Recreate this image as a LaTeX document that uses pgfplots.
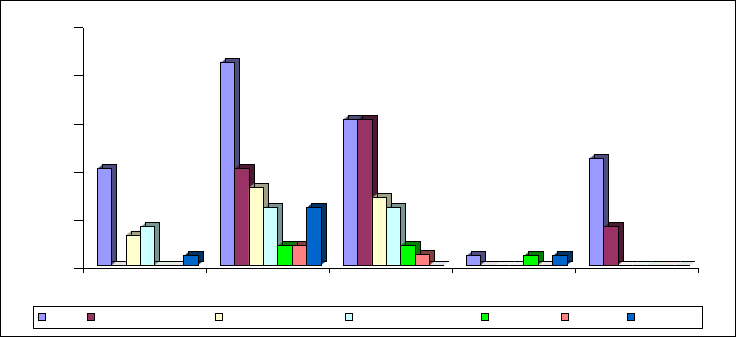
\documentclass[border=0pt]{standalone}
\usepackage{pgfplots}
\usepackage{pgfplotstable}
\pgfplotsset{compat=1.18}
\definecolor{c1}{HTML}{9999FF}\definecolor{d1}{HTML}{4D4D80}
\definecolor{c2}{HTML}{993366}\definecolor{d2}{HTML}{4D1A33}
\definecolor{c3}{HTML}{FFFFCC}\definecolor{d3}{HTML}{A0A088}
\definecolor{c4}{HTML}{CCFFFF}\definecolor{d4}{HTML}{7A9494}
\definecolor{c5}{HTML}{00FF00}\definecolor{d5}{HTML}{008000}
\definecolor{c6}{HTML}{FF8080}\definecolor{d6}{HTML}{804040}
\definecolor{c7}{HTML}{0066CC}\definecolor{d7}{HTML}{003366}
\pgfplotstableread{
x s1 s2 s3 s4 s5 s6 s7
0 10.1 0 3.2 4.05 0 0 1.05
1 21.1 10.1 8.15 6.05 2.1 2.1 6.05
2 15.2 15.2 7.1 6.05 2.1 1.15 0
3 1.05 0 0 0 1.05 0 1.05
4 11.15 4.05 0 0 0 0 0
}\data
\newcommand{\tdbar}[4]{%
\addplot[ybar, bar width=14.4pt, bar shift=#2, fill=#4, draw=none, forget plot, xshift=1.25pt, yshift=1pt] table[x=x,y=#1]{\data};
\addplot[ybar, bar width=14.4pt, bar shift=#2, fill=#4, draw=none, forget plot, xshift=2.5pt, yshift=2pt] table[x=x,y=#1]{\data};
\addplot[ybar, bar width=14.4pt, bar shift=#2, fill=#4, draw=none, forget plot, xshift=3.75pt, yshift=3pt] table[x=x,y=#1]{\data};
\addplot[ybar, bar width=14.4pt, bar shift=#2, fill=#4, draw=black, line width=0.6pt, forget plot, xshift=5pt, yshift=4pt] table[x=x,y=#1]{\data};
\addplot[ybar, bar width=14.4pt, bar shift=#2, fill=#3, draw=black, line width=0.6pt] table[x=x,y=#1]{\data};
}
\begin{document}
\begin{tikzpicture}
\useasboundingbox (0,0) rectangle (736pt,337pt);
\draw[line width=1.2pt] (0.6pt,0.6pt) rectangle (735.4pt,336.4pt);
\begin{axis}[
  at={(83pt,68.7pt)}, anchor=south west,
  scale only axis, width=615pt, height=240.6pt,
  xmin=-0.5, xmax=4.5, ymin=-0.27, ymax=24.73,
  axis lines=left, axis line style={-, line width=0.8pt},
  xtick={-0.5,0.5,1.5,2.5,3.5,4.5}, xticklabels={},
  ytick=\empty, yticklabels={},
  extra y ticks={-0.27,4.73,9.73,14.73,19.73,24.73}, extra y tick labels={},
  extra y tick style={major tick length=9pt, tick style={line width=0.8pt}},
  tick align=outside, major tick length=5pt, tick style={line width=0.8pt, black},
  clip=false,
  legend columns=7,
  legend image code/.code={\draw[#1,line width=0.6pt] (0pt,-3.5pt) rectangle (7pt,3.5pt);},
  legend style={at={(-0.0813,-0.1567)}, anchor=north west, draw=black, line width=0.8pt,
    inner xsep=4.5pt, inner ysep=7pt, column sep=0pt, nodes={inner sep=0pt}},
]
\tdbar{s1}{-40.2pt}{c1}{d1}
\addlegendentry{\hspace*{41pt}}
\tdbar{s2}{-25.8pt}{c2}{d2}
\addlegendentry{\hspace*{121pt}}
\tdbar{s3}{-11.4pt}{c3}{d3}
\addlegendentry{\hspace*{122pt}}
\tdbar{s4}{3pt}{c4}{d4}
\addlegendentry{\hspace*{129pt}}
\tdbar{s5}{17.4pt}{c5}{d5}
\addlegendentry{\hspace*{72pt}}
\tdbar{s6}{31.8pt}{c6}{d6}
\addlegendentry{\hspace*{58pt}}
\tdbar{s7}{46.2pt}{c7}{d7}
\addlegendentry{\hspace*{64pt}}
\end{axis}
\end{tikzpicture}
\end{document}
